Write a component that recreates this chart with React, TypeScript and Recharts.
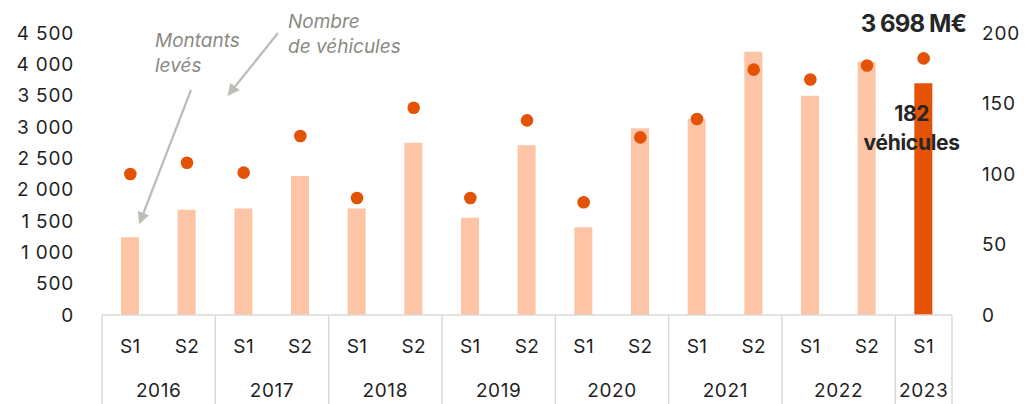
import React from 'react';
import { ComposedChart, Bar, Line, XAxis, YAxis, Cell, LabelList } from 'recharts';

// Semesters and years (2016 S1 .. 2023 S1)
const SEMESTERS = ['S1', 'S2', 'S1', 'S2', 'S1', 'S2', 'S1', 'S2', 'S1', 'S2', 'S1', 'S2', 'S1', 'S2', 'S1'];
const YEARS = ['2016', '2016', '2017', '2017', '2018', '2018', '2019', '2019', '2020', '2020', '2021', '2021', '2022', '2022', '2023'];

// Montants levés (M€), left axis
const AMOUNTS = [1240, 1680, 1700, 2220, 1700, 2750, 1550, 2710, 1400, 2980, 3130, 4200, 3500, 4040, 3698];
// Nombre de véhicules, right axis
const VEHICLES = [100, 108, 101, 127, 83, 147, 83, 138, 80, 126, 139, 174, 167, 177, 182];

const LEFT_TICKS = [0, 500, 1000, 1500, 2000, 2500, 3000, 3500, 4000, 4500];
const RIGHT_TICKS = [0, 50, 100, 150, 200];

const data = SEMESTERS.map((s, i) => ({
  key: `${YEARS[i]}-${s}`,
  sem: s,
  year: YEARS[i],
  amount: AMOUNTS[i],
  vehicles: VEHICLES[i],
}));

const W = 1033;
const H = 404;
const LEFT_W = 102;
const RIGHT_W = 81;
const BAND = (W - LEFT_W - RIGHT_W) / data.length;

const LIGHT = '#FDC4A5';
const DARK = '#E35205';
const GRID = '#D9D9D9';
const TEXT = '#1f1f1f';
const NOTE = '#8a8a82';
const FONT = 'Inter, "Noto Sans", sans-serif';

const fmt = (v: number) => v.toLocaleString('fr-FR').replace(/\u202f|\u00a0/g, ' ');

const SemTick = (props: any) => {
  const { x, y, index } = props;
  const d = data[index];
  if (!d) return null;
  const last = index === data.length - 1;
  const yearX = last ? x : x + BAND / 2;
  return (
    <g>
      {d.sem === 'S1' && (
        <line x1={x - BAND / 2} x2={x - BAND / 2} y1={y - 8} y2={H} stroke={GRID} strokeWidth={1.5} />
      )}
      {last && <line x1={x + BAND / 2} x2={x + BAND / 2} y1={y - 8} y2={H} stroke={GRID} strokeWidth={1.5} />}
      <text x={x} y={y + 30} textAnchor="middle" fill={TEXT} fontSize={19} fontFamily={FONT} letterSpacing={0.4}>
        {d.sem}
      </text>
      {d.sem === 'S1' && (
        <text x={yearX} y={y + 74} textAnchor="middle" fill={TEXT} fontSize={19} fontFamily={FONT} letterSpacing={0.6}>
          {d.year}
        </text>
      )}
    </g>
  );
};

const AmountLabel = (props: any) => {
  const { x, width, index, value } = props;
  if (index !== data.length - 1) return null;
  return (
    <text x={x + width / 2 - 10} y={32} textAnchor="middle" fill="#262626" fontSize={24}
      fontWeight={700} fontFamily={FONT} letterSpacing={-0.9}>
      {fmt(value)} M€
    </text>
  );
};

const VehicleLabel = (props: any) => {
  const { x, index, value } = props;
  if (index !== data.length - 1) return null;
  return (
    <text textAnchor="middle" fill="#262626" fontSize={21} fontWeight={700} fontFamily={FONT} letterSpacing={-0.3}>
      <tspan x={x - 12} y={121}>{value}</tspan>
      <tspan x={x - 12} y={150}>véhicules</tspan>
    </text>
  );
};

export default function App() {
  return (
    <div style={{ position: 'absolute', left: 0, top: 0, width: W, height: H, background: '#fff' }}>
      <ComposedChart width={W} height={H} data={data} margin={{ top: 33, right: 0, bottom: 0, left: 0 }}>
        <XAxis
          dataKey="key"
          interval={0}
          tickLine={false}
          axisLine={{ stroke: GRID, strokeWidth: 1.5 }}
          tick={<SemTick />}
          height={89}
        />
        <YAxis
          yAxisId="left"
          domain={[0, 4500]}
          ticks={LEFT_TICKS}
          interval={0}
          width={LEFT_W}
          axisLine={false}
          tickLine={false}
          tickFormatter={fmt}
          tick={{ fill: TEXT, fontSize: 19, fontFamily: FONT, dx: -20, letterSpacing: 0.8 }}
        />
        <YAxis
          yAxisId="right"
          orientation="right"
          domain={[0, 200]}
          ticks={RIGHT_TICKS}
          interval={0}
          width={RIGHT_W}
          axisLine={false}
          tickLine={false}
          tick={{ fill: TEXT, fontSize: 19, fontFamily: FONT, textAnchor: 'start', dx: 22, letterSpacing: 0.8 }}
        />
        <Bar yAxisId="left" dataKey="amount" barSize={18} isAnimationActive={false}>
          {data.map((d, i) => (
            <Cell key={d.key} fill={i === data.length - 1 ? DARK : LIGHT} />
          ))}
          <LabelList dataKey="amount" content={<AmountLabel />} />
        </Bar>
        <Line
          yAxisId="right"
          dataKey="vehicles"
          stroke="none"
          dot={{ r: 6.3, fill: DARK, stroke: 'none' }}
          activeDot={false}
          isAnimationActive={false}
        >
          <LabelList dataKey="vehicles" content={<VehicleLabel />} />
        </Line>
      </ComposedChart>
      {/* annotations */}
      <svg width={W} height={H} style={{ position: 'absolute', left: 0, top: 0, pointerEvents: 'none' }}>
        <defs>
          <marker id="arr" viewBox="0 0 10 10" refX="8" refY="5" markerWidth="5.5" markerHeight="5.5" orient="auto">
            <path d="M0,0 L10,5 L0,10 z" fill="#BDBDB5" />
          </marker>
        </defs>
        <line x1={191} y1={90} x2={140} y2={222} stroke="#BDBDB5" strokeWidth={2.2} markerEnd="url(#arr)" />
        <line x1={278} y1={33} x2={229} y2={94} stroke="#BDBDB5" strokeWidth={2.2} markerEnd="url(#arr)" />
        <text fill={NOTE} fontSize={19} fontStyle="italic" fontFamily={FONT}>
          <tspan x={155} y={47}>Montants</tspan>
          <tspan x={155} y={72}>levés</tspan>
        </text>
        <text fill={NOTE} fontSize={19} fontStyle="italic" fontFamily={FONT}>
          <tspan x={288} y={28}>Nombre</tspan>
          <tspan x={288} y={53}>de véhicules</tspan>
        </text>
      </svg>
    </div>
  );
}
